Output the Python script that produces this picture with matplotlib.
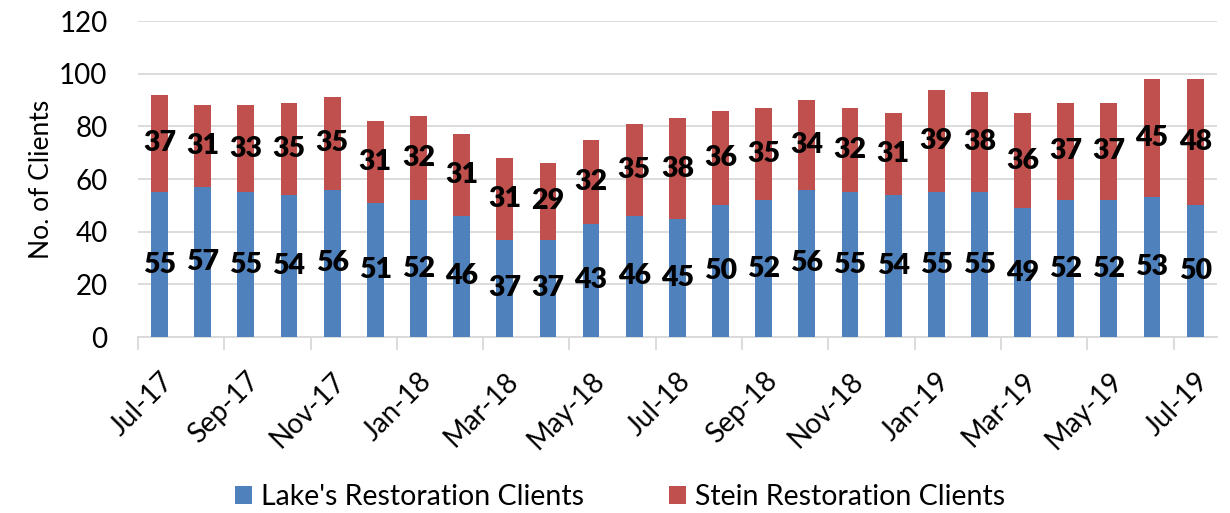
import matplotlib
matplotlib.use('Agg')
import matplotlib.pyplot as plt
import numpy as np

months = ['Jul-17', 'Aug-17', 'Sep-17', 'Oct-17', 'Nov-17', 'Dec-17',
          'Jan-18', 'Feb-18', 'Mar-18', 'Apr-18', 'May-18', 'Jun-18',
          'Jul-18', 'Aug-18', 'Sep-18', 'Oct-18', 'Nov-18', 'Dec-18',
          'Jan-19', 'Feb-19', 'Mar-19', 'Apr-19', 'May-19', 'Jun-19', 'Jul-19']
lakes = [55, 57, 55, 54, 56, 51, 52, 46, 37, 37, 43, 46, 45,
         50, 52, 56, 55, 54, 55, 55, 49, 52, 52, 53, 50]
stein = [37, 31, 33, 35, 35, 31, 32, 31, 31, 29, 32, 35, 38,
         36, 35, 34, 32, 31, 39, 38, 36, 37, 37, 45, 48]

plt.rcParams['font.family'] = ['Lato', 'DejaVu Sans']

blue = '#4F81BD'
red = '#C0504D'
grid_col = '#D9D9D9'

fig = plt.figure(figsize=(12.3, 5.13), dpi=100)
ax = fig.add_axes([0.1122, 0.343, 0.877, 0.616])

x = np.arange(len(months))
w = 0.39
b1 = ax.bar(x, lakes, w, color=blue, label="Lake's Restoration Clients", zorder=3)
b2 = ax.bar(x, stein, w, bottom=lakes, color=red, label='Stein Restoration Clients', zorder=3)

for i in range(len(months)):
    ax.text(x[i], lakes[i] / 2, str(lakes[i]), ha='center', va='center',
            fontsize=20.5, fontweight='heavy', color='black', zorder=4)
    ax.text(x[i], lakes[i] + stein[i] / 2, str(stein[i]), ha='center', va='center',
            fontsize=20.5, fontweight='heavy', color='black', zorder=4)

ax.set_ylim(0, 120)
ax.set_yticks(range(0, 121, 20))
ax.set_xlim(-0.5, len(months) - 0.5)
ax.yaxis.grid(True, color=grid_col, linewidth=1.3, zorder=0)
ax.set_axisbelow(True)
for s in ['left', 'right', 'top']:
    ax.spines[s].set_visible(False)
ax.spines['bottom'].set_color(grid_col)
ax.spines['bottom'].set_linewidth(1.3)

ax.tick_params(axis='y', length=0, labelsize=20, pad=22)
ax.set_ylabel('No. of Clients', fontsize=19, labelpad=4)

# tick marks between categories, labels on every second month
ax.set_xticks(np.arange(-0.5, len(months) - 0.5, 2), minor=True)
ax.tick_params(axis='x', which='minor', length=9, color=grid_col, width=1.3)
ax.set_xticks(x[::2])
ax.set_xticklabels(months[::2], rotation=45, ha='right', rotation_mode='anchor', fontsize=20)
ax.tick_params(axis='x', which='major', length=0, pad=22)

fig.legend(handles=[b1, b2], loc='lower center', ncol=2, frameon=False,
           fontsize=20.5, bbox_to_anchor=(0.504, -0.045), handlelength=0.6,
           handleheight=0.6, columnspacing=3.0, handletextpad=0.3)

plt.savefig('out.png', dpi=100)
